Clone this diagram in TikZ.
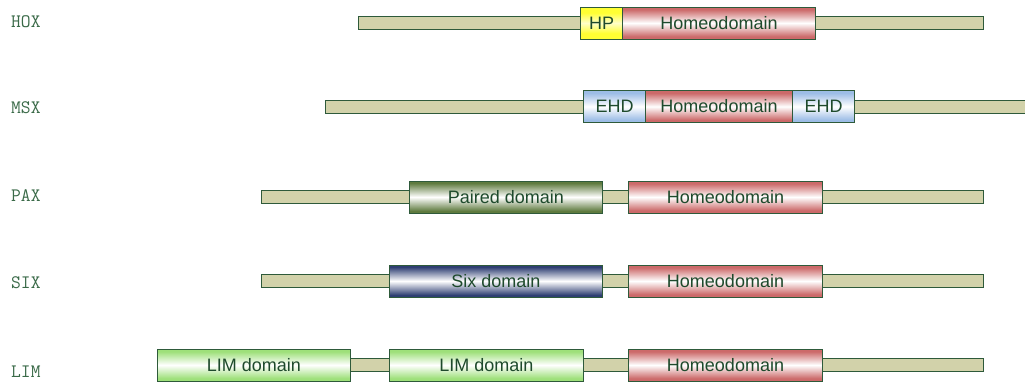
\documentclass[tikz,border=0pt]{standalone}
\usepackage{fontspec}
\setmainfont{Liberation Sans}
\definecolor{edge}{HTML}{2E5A3A}
\definecolor{txt}{HTML}{1E4A2C}
\definecolor{lbl}{HTML}{3A6A48}
\definecolor{barfill}{HTML}{D2D2AA}
\definecolor{homeo}{HTML}{CC6A6A}
\definecolor{hp}{HTML}{FFFF33}
\definecolor{hpmid}{HTML}{FFFFC8}
\definecolor{ehd}{HTML}{9DBDE6}
\definecolor{paired}{HTML}{5E7A3E}
\definecolor{six}{HTML}{2E3E72}
\definecolor{lim}{HTML}{9EE07A}
\pgfdeclareverticalshading{homeosh}{100bp}{color(0bp)=(homeo); color(29bp)=(homeo); color(50bp)=(white); color(71bp)=(homeo); color(100bp)=(homeo)}
\pgfdeclareverticalshading{hpsh}{100bp}{color(0bp)=(hp); color(34bp)=(hp); color(50bp)=(hpmid); color(66bp)=(hp); color(100bp)=(hp)}
\pgfdeclareverticalshading{ehdsh}{100bp}{color(0bp)=(ehd); color(29bp)=(ehd); color(50bp)=(white); color(71bp)=(ehd); color(100bp)=(ehd)}
\pgfdeclareverticalshading{pairedsh}{100bp}{color(0bp)=(paired); color(28bp)=(paired); color(50bp)=(white); color(72bp)=(paired); color(100bp)=(paired)}
\pgfdeclareverticalshading{sixsh}{100bp}{color(0bp)=(six); color(28bp)=(six); color(50bp)=(white); color(72bp)=(six); color(100bp)=(six)}
\pgfdeclareverticalshading{limsh}{100bp}{color(0bp)=(lim); color(29bp)=(lim); color(50bp)=(white); color(71bp)=(lim); color(100bp)=(lim)}
\tikzset{
  bar/.style={draw=edge, line width=1pt, fill=barfill, minimum height=13pt, inner sep=0pt, anchor=west},
  dom/.style={draw=edge, line width=1pt, minimum height=32pt, inner sep=0pt, anchor=west,
     font=\fontsize{18}{20}\selectfont, text=txt},
  homeobox/.style={dom, shading=homeosh},
  hpbox/.style={dom, shading=hpsh},
  ehdbox/.style={dom, shading=ehdsh},
  pairedbox/.style={dom, shading=pairedsh},
  sixbox/.style={dom, shading=sixsh},
  limbox/.style={dom, shading=limsh},
  glabel/.style={anchor=west, inner sep=0pt, text=lbl, font=\ttfamily\fontsize{19}{20}\selectfont},
}
\begin{document}
\begin{tikzpicture}[x=1pt,y=-1pt]
\useasboundingbox (0,0) rectangle (1025,381);
\clip (0,0) rectangle (1025,381);
% HOX
\node[glabel] (lhox) at (11,22) {HOX};
\node[bar, minimum width=625pt] (bhox) at (358,22.5) {};
\node[hpbox, minimum width=42pt] (hp) at (580,23) {HP};
\node[homeobox, minimum width=193pt] (hhox) at (622,23) {Homeodomain};
% MSX
\node[glabel] (lmsx) at (11,108) {MSX};
\node[bar, minimum width=710pt] (bmsx) at (325,106.5) {};
\node[ehdbox, minimum width=62pt] (ehd1) at (583,106.5) {EHD};
\node[homeobox, minimum width=147pt] (hmsx) at (645,106.5) {Homeodomain};
\node[ehdbox, minimum width=62pt] (ehd2) at (792,106.5) {EHD};
% PAX
\node[glabel] (lpax) at (11,196) {PAX};
\node[bar, minimum width=722pt] (bpax) at (261,197) {};
\node[pairedbox, minimum width=193pt] (pd) at (409,197) {Paired domain};
\node[homeobox, minimum width=194pt] (hpax) at (628,197) {Homeodomain};
% SIX
\node[glabel] (lsix) at (11,283) {SIX};
\node[bar, minimum width=722pt] (bsix) at (261,281) {};
\node[sixbox, minimum width=213pt] (sd) at (389,281) {Six domain};
\node[homeobox, minimum width=194pt] (hsix) at (628,281) {Homeodomain};
% LIM
\node[glabel] (llim) at (11,372) {LIM};
\node[bar, minimum width=783pt] (blim) at (200,365) {};
\node[limbox, minimum width=193pt] (lim1) at (157,365) {LIM domain};
\node[limbox, minimum width=194pt] (lim2) at (389,365) {LIM domain};
\node[homeobox, minimum width=194pt] (hlim) at (628,365) {Homeodomain};
\end{tikzpicture}
\end{document}
